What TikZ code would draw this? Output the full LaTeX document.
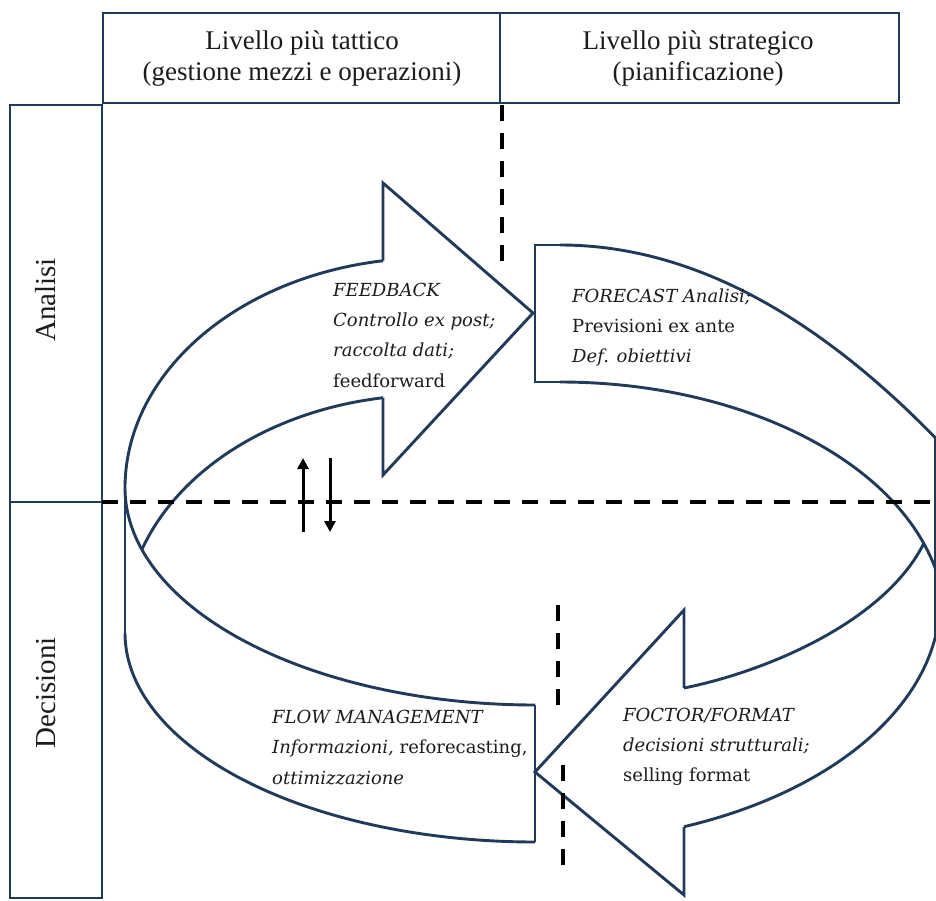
\documentclass[tikz,border=0pt]{standalone}
\usepackage{fontspec}
\setmainfont{DejaVu Serif}
\newfontfamily\hdrfont{Liberation Serif}
\usetikzlibrary{arrows.meta}
\definecolor{navy}{RGB}{34,58,90}
\definecolor{ink}{RGB}{28,28,28}
\begin{document}
\begin{tikzpicture}[x=1pt,y=-1pt,
  ring/.style={draw=navy, line width=2.9pt, line join=miter},
  frame/.style={draw=navy, line width=2.8pt},
  dashln/.style={draw=black, line width=3.3pt, dash pattern=on 16pt off 12pt},
  body/.style={anchor=base west, inner sep=0pt, text=ink, font=\fontsize{18}{22}\selectfont},
  hdr/.style={anchor=base, inner sep=0pt, text=ink, font=\hdrfont\fontsize{27}{30}\selectfont},
  side/.style={inner sep=0pt, text=ink, rotate=90, font=\hdrfont\fontsize{29}{32}\selectfont},
  updown/.style={draw=black, line width=3pt, -{Triangle[width=11pt,length=11pt]}}
]
\useasboundingbox (0,0) rectangle (936,901);
\fill[white] (0,0) rectangle (936,901);

% header table
\draw[frame] (103,13) rectangle (899,103);
\draw[frame] (500,13) -- (500,103);
\node[hdr] (h1a) at (302,50) {Livello più tattico};
\node[hdr] (h1b) at (302,81) {(gestione mezzi e operazioni)};
\node[hdr] (h2a) at (698,50) {Livello più strategico};
\node[hdr] (h2b) at (698,81) {(pianificazione)};

% left column
\draw[frame] (10,105) rectangle (102,898);
\draw[frame] (10,502) -- (102,502);
\node[side] (lanalisi) at (46,300) {Analisi};
\node[side] (ldecisioni) at (46,693) {Decisioni};

% ring of arrows
\begin{scope}
\clip (0,0) rectangle (936,901);
% upper band: outer and inner edges
\draw[ring] plot[domain=180:261.13, samples=90, smooth] ({430+305*cos(\x)},{488+230*sin(\x)});
\draw[ring] plot[domain=199.1:261.13, samples=70, smooth] ({430+305*cos(\x)},{625+230*sin(\x)});
% FEEDBACK arrow head
\draw[ring] (383,260.7) -- (383,183) -- (533,313) -- (383,475) -- (383,397.7);
% lower band (flow management)
\draw[ring] plot[domain=90:180, samples=90, smooth] ({535+410*cos(\x)},{488+217*sin(\x)});
\draw[ring] plot[domain=90:180, samples=90, smooth] ({535+410*cos(\x)},{633+209*sin(\x)});
\draw[ring] (125,488) -- (125,633);
\draw[ring] (535,705) -- (535,842);
% FORECAST box
\draw[ring] (560,245) -- (535,245) -- (535,382) -- (560,382);
\draw[ring] (560,245) .. controls (693.3,245) and (826.7,318) .. (960,464);
\draw[ring] plot[domain=0:90, samples=90, smooth] ({560+385*cos(\x)},{622-240*sin(\x)});
% FOCTOR arrow
\draw[ring] (684,688) .. controls (764,672) and (884,623) .. (924,543);
\draw[ring] (684,688) -- (684,610) -- (535,772) -- (684,895) -- (684,827);
\draw[ring] plot[domain=0:68.9, samples=80, smooth] ({540+400*cos(\x)},{600+243*sin(\x)});
\draw[ring] (935,438) -- (935,638);
\end{scope}

% dashed guide lines
\draw[dashln] (102,502) -- (936,502);
\draw[dashln] (502,105) -- (502,265);
\draw[dashln] (558,605) -- (558,708);
\draw[dashln] (563,765) -- (563,870);

% small up/down arrows
\coordinate (upS) at (303,532);
\coordinate (upE) at (303,458);
\coordinate (dnS) at (330,458);
\coordinate (dnE) at (330,532);
\draw[updown] (upS) -- (upE);
\draw[updown] (dnS) -- (dnE);

% texts
\node[body] (fb1) at (333,296) {\itshape FEEDBACK};
\node[body] (fb2) at (333,326) {\itshape Controllo ex post;};
\node[body] (fb3) at (333,356) {\itshape raccolta dati;};
\node[body] (fb4) at (333,387) {feedforward};

\node[body] (fc1) at (572,302) {\itshape FORECAST Analisi;};
\node[body] (fc2) at (572,332) {Previsioni ex ante};
\node[body] (fc3) at (572,362) {\itshape Def. obiettivi};

\node[body] (fm1) at (272,723) {\itshape FLOW MANAGEMENT};
\node[body] (fm2) at (272,753) {{\itshape Informazioni,} reforecasting,};
\node[body] (fm3) at (272,784) {\itshape ottimizzazione};

\node[body] (ff1) at (623,721) {\itshape FOCTOR/FORMAT};
\node[body] (ff2) at (623,751) {\itshape decisioni strutturali;};
\node[body] (ff3) at (623,781) {selling format};
\end{tikzpicture}
\end{document}
